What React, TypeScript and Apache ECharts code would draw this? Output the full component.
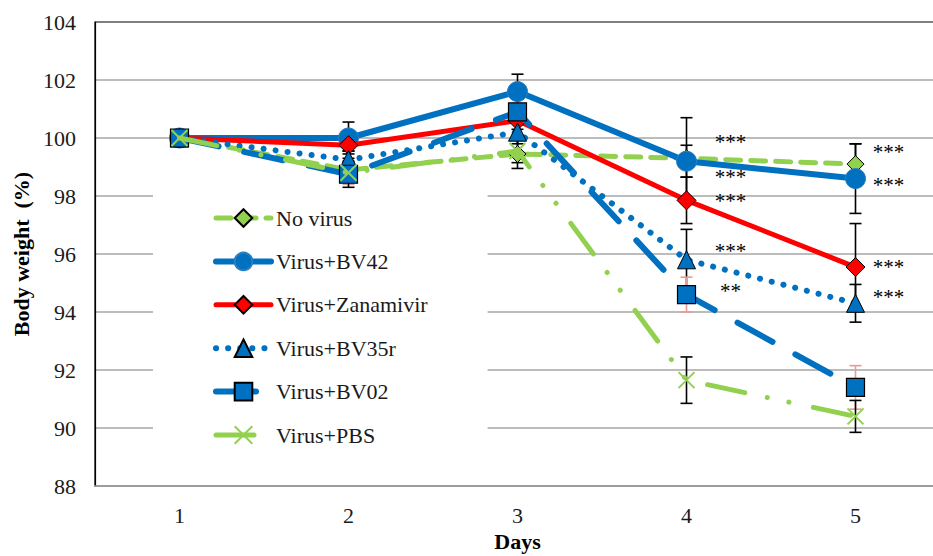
import React, { useEffect, useRef } from "react";
import * as echarts from "echarts";

const days = ["1", "2", "3", "4", "5"];
const yTicks = { min: 88, max: 104, interval: 2 };

const names = ["No virus", "Virus+BV42", "Virus+Zanamivir", "Virus+BV35r", "Virus+BV02", "Virus+PBS"];

const noVirus = [100, 98.9, 99.45, 99.3, 99.1];
const bv42 = [100, 100.0, 101.6, 99.2, 98.6];
const zanamivir = [100, 99.75, 100.6, 97.85, 95.55];
const bv35r = [100, 99.25, 100.2, 95.8, 94.3];
const bv02 = [100, 98.75, 100.9, 94.6, 91.4];
const pbs = [100, 98.8, 99.55, 91.65, 90.4];

const noVirusErr = [0, 0.3, 0.5, 1.4, 0.7];
const bv42Err = [0, 0.55, 0.6, 0.55, 1.2];
const zanamivirErr = [0, 0.2, 0.3, 0.8, 1.5];
const bv35rErr = [0, 0.3, 0.4, 1.05, 0.65];
const bv02Err = [0, 0.35, 0.3, 0.6, 0.75];
const pbsErr = [0, 0.5, 0.4, 0.8, 0.55];

const starDays = [3, 3, 3, 3, 3, 4, 4, 4, 4];
const starValues = [100.0, 98.79, 97.97, 96.24, 94.86, 99.66, 98.52, 95.69, 94.66];
const starLabels = ["***", "***", "***", "***", "**", "***", "***", "***", "***"];

const FONT = "'Liberation Serif', 'Times New Roman', serif";
const GREEN = "#92d050";
const BLUE = "#0070c0";
const RED = "#ff0000";

export default function App() {
  const ref = useRef<HTMLDivElement>(null);

  useEffect(() => {
    if (!ref.current) return;
    const chart = echarts.init(ref.current, undefined, { renderer: "svg" });

    const lineDefs = [
      { name: names[0], data: noVirus, err: noVirusErr, errColor: "#000",
        line: { color: GREEN, width: 5, type: [15, 10], cap: "round" },
        symbol: "diamond", size: 17, item: { color: GREEN, borderColor: "#000", borderWidth: 1 } },
      { name: names[1], data: bv42, err: bv42Err, errColor: "#000",
        line: { color: BLUE, width: 6, type: "solid", cap: "round" },
        symbol: "circle", size: 20, item: { color: BLUE, borderColor: "#2a7fc0", borderWidth: 1 } },
      { name: names[2], data: zanamivir, err: zanamivirErr, errColor: "#000",
        line: { color: RED, width: 5, type: "solid", cap: "round" },
        symbol: "diamond", size: 19, item: { color: RED, borderColor: "#000", borderWidth: 1 } },
      { name: names[3], data: bv35r, err: bv35rErr, errColor: "#000",
        line: { color: BLUE, width: 6, type: [0.1, 12], cap: "round" },
        symbol: "triangle", size: 18, item: { color: BLUE, borderColor: "#000", borderWidth: 1 } },
      { name: names[4], data: bv02, err: bv02Err, errColor: "#e89a9a",
        line: { color: BLUE, width: 6, type: [40, 26], cap: "round" },
        symbol: "rect", size: 18, item: { color: BLUE, borderColor: "#000", borderWidth: 1.2 } },
      { name: names[5], data: pbs, err: pbsErr, errColor: "#000",
        line: { color: GREEN, width: 5, type: [38, 23, 0.1, 22, 0.1, 25], cap: "round" },
        symbol: "path://M0,0L10,10M10,0L0,10", size: 16,
        item: { color: "transparent", borderColor: GREEN, borderWidth: 2 } },
    ];

    const errSeries = lineDefs.map((d, si) => ({
      type: "custom",
      name: "err" + si,
      z: 1,
      silent: true,
      encode: { x: 0, y: [1, 2] },
      data: d.data.map((v, i) => [i, v - d.err[i], v + d.err[i]]),
      renderItem: (params: any, api: any) => {
        const x = api.value(0);
        const lo = api.value(1);
        const hi = api.value(2);
        if (hi - lo <= 0) return null;
        const top = api.coord([x, hi]);
        const bot = api.coord([x, lo]);
        const cw = 6;
        const style = { stroke: d.errColor, lineWidth: 1.6, fill: "none" };
        return {
          type: "group",
          children: [
            { type: "line", shape: { x1: top[0], y1: top[1], x2: bot[0], y2: bot[1] }, style },
            { type: "line", shape: { x1: top[0] - cw, y1: top[1], x2: top[0] + cw, y2: top[1] }, style },
            { type: "line", shape: { x1: bot[0] - cw, y1: bot[1], x2: bot[0] + cw, y2: bot[1] }, style },
          ],
        };
      },
    }));

    const lineSeries = lineDefs.map((d, si) => ({
      type: "line",
      name: d.name,
      z: 2 + si * 0.01,
      data: d.data,
      symbol: d.symbol,
      symbolSize: d.size,
      showAllSymbol: true,
      lineStyle: d.line,
      itemStyle: d.item,
      emphasis: { disabled: true },
    }));

    const starSeries = {
      type: "custom",
      name: "stars",
      z: 5,
      silent: true,
      encode: { x: 0, y: 1 },
      data: starDays.map((d, i) => [d, starValues[i], i]),
      renderItem: (params: any, api: any) => {
        const p = api.coord([api.value(0), api.value(1)]);
        const idx = api.value(2);
        const dx = api.value(0) === 3 ? 44 : 33;
        return {
          type: "text",
          x: p[0] + dx,
          y: p[1] + 4,
          style: {
            text: starLabels[idx],
            font: `21px ${FONT}`,
            fill: "#000",
            align: "center",
            verticalAlign: "middle",
          },
        };
      },
    };

    chart.setOption({
      animation: false,
      backgroundColor: "#fff",
      grid: {
        left: 95,
        top: 22,
        width: 845,
        height: 464,
        outerBoundsMode: "none",
        containLabel: false,
        show: true,
        borderColor: "#000",
        borderWidth: 1.2,
        backgroundColor: "transparent",
      },
      legend: {
        data: names,
        orient: "vertical",
        left: 153,
        top: 194,
        padding: [13, 60, 22, 60],
        backgroundColor: "#fff",
        itemWidth: 55,
        itemHeight: 22,
        itemGap: 21.4,
        selectedMode: false,
        lineStyle: { width: "inherit", type: "inherit", cap: "round" },
        textStyle: { fontFamily: FONT, fontSize: 22, color: "#1a1a1a", lineHeight: 22 },
      },
      xAxis: {
        type: "category",
        data: days,
        boundaryGap: true,
        name: "Days",
        nameLocation: "middle",
        nameGap: 44,
        nameTextStyle: { fontFamily: FONT, fontSize: 22, fontWeight: "bold", color: "#000" },
        axisLine: { show: true, lineStyle: { color: "#a6a6a6", width: 1.5 } },
        axisTick: { show: false },
        axisLabel: { fontFamily: FONT, fontSize: 22, color: "#1a1a1a", margin: 18 },
        splitLine: { show: false },
      },
      yAxis: {
        type: "value",
        min: yTicks.min,
        max: yTicks.max,
        interval: yTicks.interval,
        name: "Body weight  (%)",
        nameLocation: "middle",
        nameGap: 59,
        nameTextStyle: { fontFamily: FONT, fontSize: 22, fontWeight: "bold", color: "#000" },
        axisLine: { show: true, lineStyle: { color: "#000", width: 1.2 } },
        axisTick: { show: false },
        axisLabel: { fontFamily: FONT, fontSize: 22, color: "#1a1a1a", margin: 19 },
        splitLine: { show: true, showMaxLine: false, showMinLine: false, lineStyle: { color: "#a6a6a6", width: 1.5 } },
      },
      series: [...errSeries, ...lineSeries, starSeries],
    });

    return () => chart.dispose();
  }, []);

  return (
    <div
      ref={ref}
      style={{ position: "fixed", left: 0, top: 0, width: 933, height: 556, background: "#fff" }}
    />
  );
}
